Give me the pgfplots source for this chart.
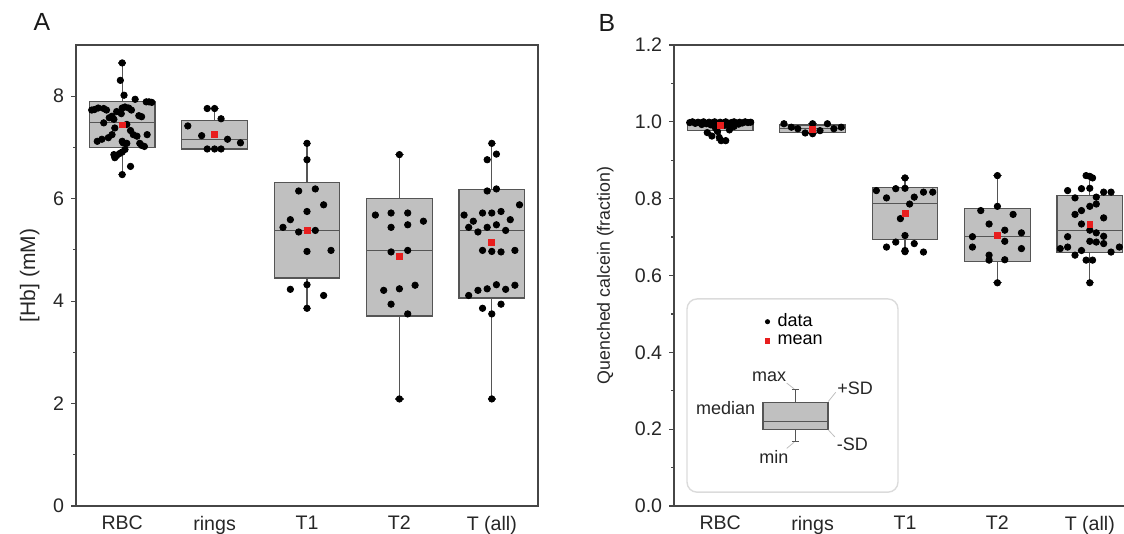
\documentclass[border=0pt]{standalone}
\usepackage{fontspec}
\setmainfont{Liberation Sans}
\usepackage{pgfplots}
\pgfplotsset{compat=1.18}
\usepgfplotslibrary{statistics}

\definecolor{boxfill}{RGB}{192,192,192}
\definecolor{boxline}{RGB}{85,85,85}
\definecolor{axline}{RGB}{70,70,70}
\definecolor{meanred}{RGB}{232,30,30}

\pgfplotsset{
  common/.style={
    scale only axis, width=231pt, height=230.5pt,
    xmin=-0.5, xmax=4.5,
    xtick={0,1,2,3,4}, xticklabels={RBC,rings,T1,T2,T (all)},
    xtick style={draw=none},
    ytick pos=left, tick align=outside,
    major tick length=2.4pt, minor tick length=1.4pt,
    minor y tick num=1,
    axis line style={axline, line width=0.9pt},
    every tick/.style={axline, line width=0.6pt},
    tick label style={font=\fontsize{9.8}{11}\selectfont, text=black!85},
    xticklabel style={yshift=1pt},
    label style={font=\fontsize{8.9}{10}\selectfont, text=black!85},
    /pgf/number format/assume math mode=true,
    boxplot/draw direction=y,
    boxplot/box extend=0.71, boxplot/whisker extend=0.09,
  },
  bx/.style={draw=boxline, fill=boxfill, line width=0.6pt, solid, forget plot},
  dots/.style={only marks, mark=*, mark size=1.6pt, black},
  means/.style={only marks, mark=square*, mark size=1.45pt, meanred, mark options={draw=meanred, fill=meanred}},
}

% ---------------- Panel A data ----------------
\pgfplotstableread{
x y
0.00 8.65
-0.02 8.31
0.02 8.02
0.14 7.94
0.26 7.89
0.29 7.89
0.32 7.88
-0.33 7.73
-0.30 7.74
-0.26 7.77
-0.20 7.76
-0.17 7.73
-0.06 7.70
0.00 7.77
0.03 7.79
0.07 7.77
0.10 7.73
-0.01 7.66
-0.11 7.61
-0.14 7.58
-0.09 7.55
0.18 7.62
0.21 7.60
-0.20 7.48
-0.08 7.38
0.05 7.45
0.09 7.33
0.12 7.25
0.16 7.22
-0.11 7.25
-0.15 7.19
-0.22 7.16
-0.27 7.12
0.27 7.25
0.00 7.12
0.01 7.09
0.05 7.08
0.19 7.08
0.21 7.04
0.24 7.02
0.03 6.96
0.00 6.91
-0.03 6.88
-0.06 6.84
-0.09 6.86
-0.08 6.80
0.09 6.63
0.00 6.47
0.92 7.76
1.00 7.76
1.07 7.56
0.71 7.42
0.86 7.23
1.14 7.16
1.28 7.09
0.92 6.97
1.00 6.97
1.07 6.97
2.00 7.08
2.00 6.76
1.91 6.15
2.09 6.19
2.18 5.88
2.00 5.75
1.82 5.59
1.74 5.44
1.91 5.35
2.09 5.38
2.00 4.97
2.26 4.99
2.00 4.32
1.82 4.23
2.18 4.11
2.00 3.86
3.00 6.86
2.74 5.68
2.91 5.72
3.09 5.72
3.26 5.56
2.91 5.44
3.09 5.49
2.91 4.96
3.09 4.99
2.83 4.21
3.00 4.24
3.17 4.31
2.91 3.94
3.09 3.75
3.00 2.09
4.00 7.08
4.05 6.87
3.95 6.76
3.95 6.15
4.05 6.19
4.30 5.88
3.70 5.68
3.90 5.72
4.00 5.72
4.10 5.75
3.80 5.56
4.20 5.59
3.75 5.44
3.95 5.44
4.05 5.49
3.85 5.35
4.15 5.38
3.90 4.99
4.00 4.97
4.10 4.96
4.25 4.99
3.75 4.11
3.85 4.21
3.95 4.24
4.05 4.32
4.15 4.23
4.25 4.31
3.90 3.86
4.10 3.94
4.00 3.75
4.00 2.09
}\dataA

% ---------------- Panel B data ----------------
\pgfplotstableread{
x y
-0.33 0.998
-0.30 1.000
-0.27 0.996
-0.24 0.999
-0.21 0.997
-0.18 1.000
-0.15 0.995
-0.12 0.999
-0.09 0.997
-0.06 1.000
-0.03 0.994
0.00 0.999
0.03 0.996
0.06 1.000
0.09 0.993
0.12 0.998
0.15 1.000
0.18 0.996
0.21 0.999
0.24 0.997
0.27 1.000
0.30 0.998
0.33 0.999
-0.20 0.993
0.20 0.994
-0.10 0.992
0.05 0.991
-0.14 0.972
-0.09 0.963
-0.01 0.959
0.01 0.951
0.06 0.951
-0.03 0.975
0.10 0.979
0.15 0.988
-0.05 0.983
0.69 0.995
0.77 0.986
0.84 0.982
0.92 0.971
1.00 0.995
1.00 0.969
1.08 0.977
1.16 0.995
1.23 0.982
1.31 0.986
2.00 0.854
1.69 0.821
1.90 0.826
2.00 0.827
2.20 0.817
2.30 0.817
1.80 0.802
2.10 0.804
2.05 0.786
1.95 0.748
2.00 0.704
1.80 0.674
1.90 0.687
2.10 0.683
2.00 0.665
2.00 0.662
2.20 0.661
3.00 0.860
3.00 0.780
2.82 0.769
3.17 0.759
2.91 0.734
3.08 0.718
3.26 0.711
2.73 0.701
3.08 0.689
2.73 0.674
3.26 0.670
2.91 0.653
2.91 0.640
3.08 0.641
3.00 0.581
3.96 0.860
4.00 0.858
4.03 0.854
3.76 0.821
3.91 0.826
4.00 0.827
4.15 0.817
4.23 0.817
3.84 0.802
4.07 0.804
4.07 0.786
4.00 0.780
3.91 0.769
3.84 0.759
4.15 0.750
3.91 0.734
4.00 0.718
4.07 0.711
3.76 0.701
4.15 0.702
4.00 0.689
4.07 0.687
4.15 0.683
3.68 0.670
3.76 0.674
3.91 0.665
4.23 0.661
4.32 0.674
3.84 0.653
3.96 0.640
4.03 0.640
4.00 0.581
}\dataB

\begin{document}
\begin{tikzpicture}
\useasboundingbox (0,0) rectangle (562pt,267pt);

% ================= Panel A =================
\begin{axis}[common,
  at={(38pt,14pt)}, anchor=south west,
  ymin=0, ymax=9, ytick={0,2,4,6,8},
  ylabel={[Hb] (mM)},
  ylabel style={at={(axis description cs:-0.1,0.5)}, anchor=center, font=\fontsize{10.5}{12}\selectfont},
]
\addplot[bx, boxplot prepared={draw position=0, lower whisker=6.47, lower quartile=7.00, median=7.48, upper quartile=7.90, upper whisker=8.65}] coordinates {};
\addplot[bx, boxplot prepared={draw position=1, lower whisker=6.97, lower quartile=6.97, median=7.16, upper quartile=7.53, upper whisker=7.76}] coordinates {};
\addplot[bx, boxplot prepared={draw position=2, lower whisker=3.86, lower quartile=4.45, median=5.38, upper quartile=6.31, upper whisker=7.08}] coordinates {};
\addplot[bx, boxplot prepared={draw position=3, lower whisker=2.09, lower quartile=3.71, median=4.99, upper quartile=6.00, upper whisker=6.86}] coordinates {};
\addplot[bx, boxplot prepared={draw position=4, lower whisker=2.09, lower quartile=4.06, median=5.38, upper quartile=6.18, upper whisker=7.08}] coordinates {};
\addplot[dots] table[x=x, y=y] {\dataA};
\addplot[means] coordinates {(0,7.44) (1,7.25) (2,5.38) (3,4.87) (4,5.14)};
\end{axis}

% ================= Panel B =================
\begin{axis}[common,
  at={(337pt,14pt)}, anchor=south west,
  ymin=0, ymax=1.2, ytick={0,0.2,0.4,0.6,0.8,1.0,1.2},
  yticklabel style={/pgf/number format/.cd, fixed, fixed zerofill, precision=1},
  ylabel={Quenched calcein (fraction)},
  ylabel style={at={(axis description cs:-0.149,0.5)}, anchor=center},
  legend style={at={(axis cs:0.485,0.512)}, anchor=north west, draw=none, fill=none,
    font=\fontsize{9}{9.6}\selectfont, row sep=-1.6pt, inner sep=0pt,
    nodes={inner xsep=4pt}},
  legend cell align=left,
  legend image code/.code={\draw[#1] plot coordinates {(0.1cm,0cm)};},
  legend image post style={mark size=1.05pt},
]
% inset key box
\draw[draw=black!14, line width=0.7pt, rounded corners=5pt] (axis cs:-0.359,0.036) rectangle (axis cs:1.924,0.539);

\addplot[bx, boxplot prepared={draw position=0, lower whisker=0.951, lower quartile=0.977, median=0.997, upper quartile=1.002, upper whisker=1.003}] coordinates {};
\addplot[bx, boxplot prepared={draw position=1, lower whisker=0.969, lower quartile=0.972, median=0.983, upper quartile=0.992, upper whisker=0.995}] coordinates {};
\addplot[bx, boxplot prepared={draw position=2, lower whisker=0.662, lower quartile=0.693, median=0.787, upper quartile=0.830, upper whisker=0.854}] coordinates {};
\addplot[bx, boxplot prepared={draw position=3, lower whisker=0.581, lower quartile=0.636, median=0.701, upper quartile=0.774, upper whisker=0.860}] coordinates {};
\addplot[bx, boxplot prepared={draw position=4, lower whisker=0.581, lower quartile=0.659, median=0.718, upper quartile=0.808, upper whisker=0.861}] coordinates {};
\addplot[dots] table[x=x, y=y] {\dataB};
\addlegendentry{data}
\addplot[means] coordinates {(0,0.990) (1,0.981) (2,0.761) (3,0.705) (4,0.734)};
\addlegendentry{mean}

% schematic box in the key
\draw[boxline, line width=0.6pt] (axis cs:0.815,0.270) -- (axis cs:0.815,0.303);
\draw[boxline, line width=0.6pt] (axis cs:0.775,0.303) -- (axis cs:0.855,0.303);
\draw[boxline, line width=0.6pt] (axis cs:0.815,0.200) -- (axis cs:0.815,0.168);
\draw[boxline, line width=0.6pt] (axis cs:0.775,0.168) -- (axis cs:0.855,0.168);
\draw[draw=boxline, fill=boxfill, line width=0.6pt] (axis cs:0.463,0.200) rectangle (axis cs:1.167,0.270);
\draw[boxline, line width=0.8pt] (axis cs:0.463,0.220) -- (axis cs:1.167,0.220);
\draw[black!25, line width=0.4pt] (axis cs:0.72,0.320) -- (axis cs:0.80,0.305);
\draw[black!25, line width=0.4pt] (axis cs:1.17,0.272) -- (axis cs:1.25,0.296);
\draw[black!25, line width=0.4pt] (axis cs:1.17,0.198) -- (axis cs:1.24,0.180);
\draw[black!25, line width=0.4pt] (axis cs:0.72,0.150) -- (axis cs:0.80,0.166);
\begin{scope}[every node/.style={font=\fontsize{9}{10}\selectfont, text=black!85, inner sep=0pt}]
\node at (axis cs:0.530,0.336) {max};
\node at (axis cs:1.46,0.307) {+SD};
\node at (axis cs:0.060,0.254) {median};
\node at (axis cs:1.43,0.160) {-SD};
\node at (axis cs:0.580,0.128) {min};
\end{scope}
\end{axis}

\node[font=\fontsize{12.4}{14}\selectfont, text=black!90] at (21pt,256pt) {A};
\node[font=\fontsize{12.4}{14}\selectfont, text=black!90] at (303.5pt,255.5pt) {B};
\end{tikzpicture}
\end{document}
